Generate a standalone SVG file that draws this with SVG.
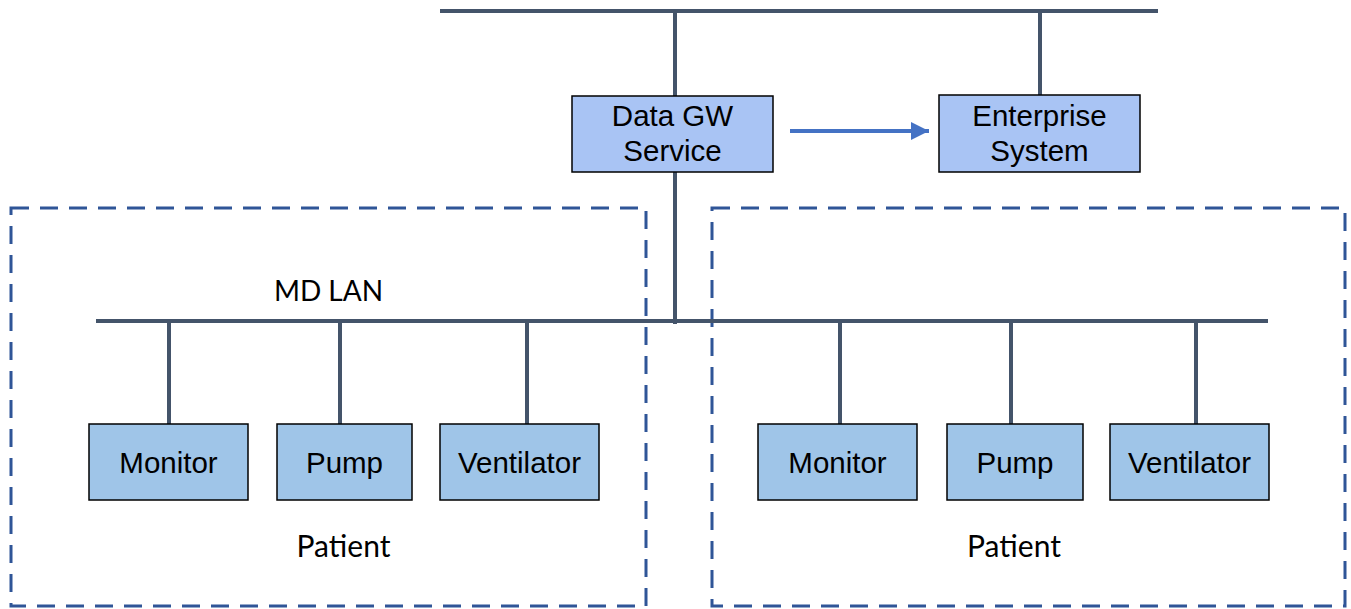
<svg xmlns="http://www.w3.org/2000/svg" width="1351" height="609" viewBox="0 0 1351 609">
<defs>
<style>
.bus{stroke:#44546A;stroke-width:4;fill:none}
.grp{fill:none;stroke:#2F5597;stroke-width:3;stroke-dasharray:18 11}
.top{fill:#A9C4F4;stroke:#000;stroke-width:1.5}
.dev{fill:#9FC5E8;stroke:#000;stroke-width:1.5}
.t{font-family:"Liberation Sans",Arial,sans-serif;font-size:29.5px;fill:#000;text-anchor:middle}
.c{font-family:Lato,"Open Sans",sans-serif;font-size:28px;fill:#000;text-anchor:middle}
.p{font-size:30px}
</style>
<marker id="ah" viewBox="0 0 10 10" refX="10" refY="5" markerWidth="4.5" markerHeight="4.5" orient="auto" markerUnits="strokeWidth">
<path d="M0,0 L10,5 L0,10 Z" fill="#4472C4"/>
</marker>
</defs>
<g id="groups">
<rect id="patient1" class="grp" x="11" y="208" width="635" height="398"/>
<rect id="patient2" class="grp" x="712" y="208" width="633" height="398"/>
</g>
<g id="connectors">
<line class="bus" x1="440" y1="11" x2="1158" y2="11"/>
<line class="bus" x1="675" y1="11" x2="675" y2="96"/>
<line class="bus" x1="1040" y1="11" x2="1040" y2="95"/>
<line class="bus" x1="675" y1="172" x2="675" y2="324"/>
<line class="bus" x1="96" y1="321" x2="1268" y2="321"/>
<line class="bus" x1="169" y1="321" x2="169" y2="424"/>
<line class="bus" x1="340" y1="321" x2="340" y2="424"/>
<line class="bus" x1="527" y1="321" x2="527" y2="424"/>
<line class="bus" x1="840" y1="321" x2="840" y2="424"/>
<line class="bus" x1="1011" y1="321" x2="1011" y2="424"/>
<line class="bus" x1="1196" y1="321" x2="1196" y2="424"/>
<line x1="790" y1="131" x2="929" y2="131" stroke="#4472C4" stroke-width="4" marker-end="url(#ah)"/>
</g>
<g id="datagw">
<rect class="top" x="572" y="96" width="201" height="76"/>
<text class="t" x="672.5" y="126">Data GW</text>
<text class="t" x="672.5" y="161">Service</text>
</g>
<g id="enterprise">
<rect class="top" x="939" y="95" width="201" height="77"/>
<text class="t" x="1039.5" y="126">Enterprise</text>
<text class="t" x="1039.5" y="161">System</text>
</g>
<g id="mdlan"><text class="c" x="328.5" y="301">MD LAN</text></g>
<g id="monitor1"><rect class="dev" x="89" y="424" width="159" height="76"/><text class="t" x="168.5" y="473">Monitor</text></g>
<g id="pump1"><rect class="dev" x="277" y="424" width="135" height="76"/><text class="t" x="344.5" y="473">Pump</text></g>
<g id="ventilator1"><rect class="dev" x="440" y="424" width="159" height="76"/><text class="t" x="519.5" y="473">Ventilator</text></g>
<g id="monitor2"><rect class="dev" x="758" y="424" width="159" height="76"/><text class="t" x="837.5" y="473">Monitor</text></g>
<g id="pump2"><rect class="dev" x="947" y="424" width="136" height="76"/><text class="t" x="1015" y="473">Pump</text></g>
<g id="ventilator2"><rect class="dev" x="1110" y="424" width="159" height="76"/><text class="t" x="1189.5" y="473">Ventilator</text></g>
<g id="patientlabel1"><text class="c p" x="343.5" y="557">Patient</text></g>
<g id="patientlabel2"><text class="c p" x="1014" y="557">Patient</text></g>
</svg>
